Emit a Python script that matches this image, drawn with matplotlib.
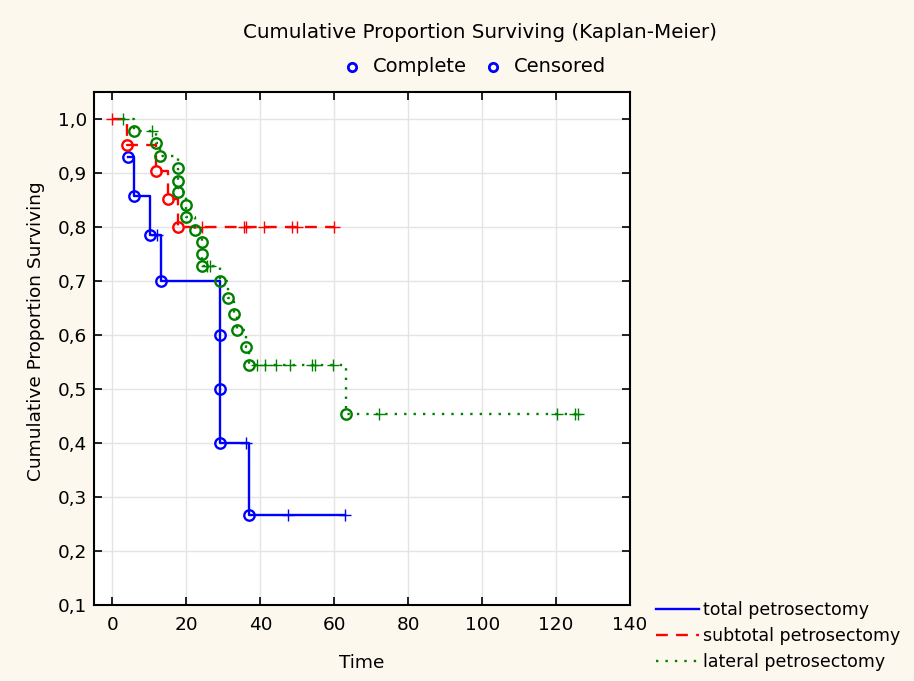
import numpy as np
import matplotlib
matplotlib.use("Agg")
from matplotlib import pyplot as plt
from matplotlib.lines import Line2D
from matplotlib.ticker import FuncFormatter

# total petrosectomy
total_start = 4.1
total_times = [4.1, 5.8, 10.1, 13.0, 29.0, 29.0, 29.0, 37.0]
total_surv = [0.929, 0.857, 0.786, 0.700, 0.600, 0.500, 0.400, 0.267]
total_cens = [12.0, 36.1, 47.5, 63.0]

# subtotal petrosectomy
sub_start = 0.0
sub_times = [3.9, 11.7, 15.0, 17.8]
sub_surv = [0.952, 0.903, 0.852, 0.800]
sub_cens = [0.0, 24.2, 35.5, 36.2, 40.9, 48.6, 49.9, 59.8]

# lateral petrosectomy
lat_start = 2.9
lat_times = [5.8, 11.7, 12.9, 17.6, 17.6, 17.6, 19.9, 19.9, 22.2, 24.2, 24.2,
             24.2, 29.0, 31.2, 32.9, 33.8, 36.0, 37.0, 63.2]
lat_surv = [0.978, 0.955, 0.932, 0.909, 0.886, 0.864, 0.841, 0.818, 0.795,
            0.773, 0.750, 0.727, 0.700, 0.669, 0.638, 0.609, 0.578, 0.545, 0.454]
lat_cens = [2.9, 10.6, 25.5, 26.4, 39.0, 41.3, 44.3, 48.1, 54.0, 54.7, 59.7,
            72.0, 120.2, 125.1, 125.8]

BG = "#fdf8ee"
FS = 13.3


def surv_at(t, start, times, surv):
    times = np.asarray(times)
    surv = np.asarray(surv)
    n = np.searchsorted(times, t, side="right")
    if n == 0:
        return 1.0
    return surv[n - 1]


def draw_group(ax, start, times, surv, cens, color, ls, label):
    end = max(max(times), max(cens))
    if start < times[0]:
        xs = [start] + list(times) + [end]
        ys = [1.0] + list(surv) + [surv[-1]]
    else:
        xs = list(times) + [end]
        ys = list(surv) + [surv[-1]]
    ax.step(xs, ys, where="post", color=color, ls=ls, lw=1.7, label=label,
            zorder=3)
    ax.plot(times, surv, ls="none", marker="o", ms=7.5, mfc="none",
            mec=color, mew=1.7, zorder=4)
    cy = [surv_at(c, start, times, surv) for c in cens]
    ax.plot(cens, cy, ls="none", marker="+", ms=8, mew=1.0, color=color,
            zorder=4)


def main():
    plt.rcParams["font.family"] = ["DejaVu Sans"]
    fig = plt.figure(figsize=(9.14, 6.81), dpi=100, facecolor=BG)
    ax = fig.add_axes([94 / 914, 1 - 605 / 681, 536 / 914, 513 / 681])
    ax.set_facecolor("white")

    draw_group(ax, total_start, total_times, total_surv, total_cens,
               "#0000ff", "-", "total petrosectomy")
    draw_group(ax, sub_start, sub_times, sub_surv, sub_cens,
               "#ff0000", (0, (5, 3.5)), "subtotal petrosectomy")
    draw_group(ax, lat_start, lat_times, lat_surv, lat_cens,
               "#008000", (0, (1, 3)), "lateral petrosectomy")

    ax.set_xlim(-5, 140)
    ax.set_ylim(0.1, 1.05)
    ax.set_xticks(np.arange(0, 141, 20))
    ax.set_yticks(np.arange(0.1, 1.01, 0.1))
    ax.yaxis.set_major_formatter(FuncFormatter(lambda v, p: f"{v:.1f}".replace(".", ",")))
    ax.tick_params(direction="in", length=6, width=1.2, top=True, right=True,
                   labelsize=FS)
    ax.tick_params(axis="y", pad=5)
    ax.tick_params(axis="x", pad=8)
    ax.grid(True, color="#e4e4e4", lw=1)
    ax.set_axisbelow(True)
    for s in ax.spines.values():
        s.set_linewidth(1.5)

    ax.set_xlabel("Time", fontsize=FS, labelpad=14)
    ax.set_ylabel("Cumulative Proportion Surviving", fontsize=FS)
    ax.yaxis.set_label_coords(-0.092, 0.534)

    fig.text(0.525, 1 - 33 / 681, "Cumulative Proportion Surviving (Kaplan-Meier)",
             ha="center", va="center", fontsize=14.3)
    for mx, tx, txt in [(352, 373, "Complete"), (493, 514, "Censored")]:
        fig.add_artist(Line2D([mx / 914], [1 - 67 / 681], transform=fig.transFigure,
                              marker="o", ms=6, mfc="none", mec="#0000ff", mew=2))
        fig.text(tx / 914, 1 - 67 / 681, txt, ha="left", va="center", fontsize=14)

    handles, labels = ax.get_legend_handles_labels()
    fig.legend(handles, labels, loc="upper left", bbox_to_anchor=(656 / 914, 1 - 601 / 681),
               frameon=False, fontsize=12.5, handlelength=2.5, handletextpad=0.2,
               labelspacing=0.47, borderpad=0, borderaxespad=0)

    fig.savefig("out.png", dpi=100, facecolor=BG)


if __name__ == '__main__':
    main()
